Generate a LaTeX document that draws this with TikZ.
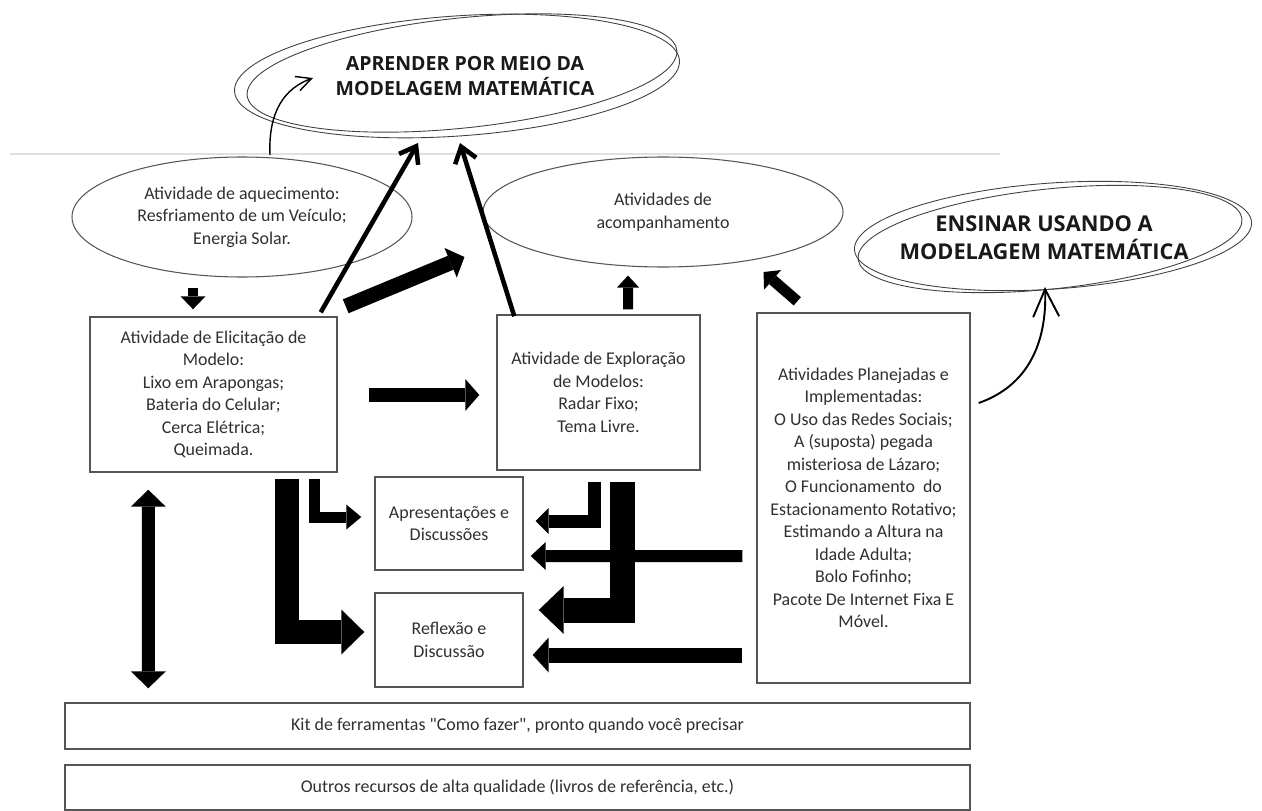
\documentclass[tikz,border=0pt]{standalone}
\usepackage{fontspec}
\setmainfont{Carlito}[Ligatures=TeXOff]
\newfontfamily\headfont{Open Sans}
\usetikzlibrary{arrows.meta,shapes.geometric,calc}

\definecolor{txtgray}{HTML}{303030}
\definecolor{linegray}{HTML}{555555}
\newcommand\boxfont{\fontsize{10.2}{12.8}\selectfont}

\tikzset{
    box/.style={rectangle, draw=linegray, line width=0.8pt, inner sep=0pt,
    	align=center, font=\boxfont, text=txtgray}
}
\tikzset{
    oval/.style={ellipse, draw=linegray, line width=0.6pt, inner sep=0pt,
    	align=center, font=\boxfont, text=txtgray}
}
\tikzset{
    title/.style={align=center, text=black!90, inner sep=0pt}
}
\tikzset{
    blk/.style args={#1/#2/#3}{line width=#1, line join=miter,
    	-{Triangle[length=#2, width=#3, line width=0pt]}},
    dblk/.style args={#1/#2/#3}{line width=#1, line join=miter,
    	{Triangle[length=#2, width=#3, line width=0pt]}-{Triangle[length=#2, width=#3, line width=0pt]}}
}
\tikzset{
    pointer/.style={line width=2.6pt, -{Straight Barb[length=3mm, width=4.4mm]}},
    sketch/.style={draw=black!75, line width=0.5pt},
    curl/.style={line width=0.8pt, -{Straight Barb[length=3mm, width=3mm]}}
}

\begin{document}
\begin{tikzpicture}[x=0.2mm, y=-0.2mm]
	\useasboundingbox (0,0) rectangle (1262,811);
	\fill[white] (0,0) rectangle (1262,811);
	\draw[black!12, line width=0.6pt] (10,154) -- (1000,154);

	% titles
	\node (learn) [title, font=\headfont\bfseries\fontsize{11.1}{14.2}\selectfont] at (465,76)
		{APRENDER POR MEIO DA\\MODELAGEM MATEMÁTICA};
	\node (teach) [title, font=\headfont\bfseries\fontsize{12.4}{16}\selectfont] at (1044,238)
		{ENSINAR USANDO A\\MODELAGEM MATEMÁTICA};
	\draw[sketch] (457,76) ellipse [x radius=223, y radius=60, rotate=4];
	\draw[sketch] (462,73) ellipse [x radius=216, y radius=55, rotate=6];
	\draw[sketch] (1053,236) ellipse [x radius=199, y radius=53, rotate=4];
	\draw[sketch] (1050,239) ellipse [x radius=193, y radius=50, rotate=6];

	% activities
	\node (warm) [oval, minimum width=68mm, minimum height=24mm] at (242,217)
		{Atividade de aquecimento:\\Resfriamento de um Veículo;\\Energia Solar.};
	\node (follow) [oval, minimum width=72mm, minimum height=22mm] at (663,212)
		{Atividades de\\acompanhamento};
	\node (elic) [box, minimum width=49.4mm, minimum height=31mm] at (213.5,394.5)
		{Atividade de Elicitação de\\Modelo:\\Lixo em Arapongas;\\Bateria do Celular;\\Cerca Elétrica;\\Queimada.};
	\node (explo) [box, minimum width=40.6mm, minimum height=31mm] at (598.5,392.5)
		{Atividade de Exploração\\de Modelos:\\Radar Fixo;\\Tema Livre.};
	\node (plan) [box, minimum width=42.6mm, minimum height=74mm] at (863.5,498)
		{Atividades Planejadas e\\Implementadas:\\O Uso das Redes Sociais;\\A (suposta) pegada\\misteriosa de Lázaro;\\O Funcionamento\ \ do\\Estacionamento Rotativo;\\Estimando a Altura na\\Idade Adulta;\\Bolo Fofinho;\\Pacote De Internet Fixa E\\Móvel.};
	\node (apres) [box, minimum width=29.6mm, minimum height=18.6mm] at (449,523.5)
		{Apresentações e\\Discussões};
	\node (refl) [box, minimum width=29.6mm, minimum height=18.8mm] at (449,640)
		{Reflexão e\\Discussão};
	\node (kit) [box, minimum width=181mm, minimum height=9.2mm] at (517.5,726)
		{Kit de ferramentas "Como fazer", pronto quando você precisar};
	\node (outros) [box, minimum width=181mm, minimum height=9mm] at (517.5,787.5)
		{Outros recursos de alta qualidade (livros de referência, etc.)};

	% arrows
	\draw[blk=2mm/2.6mm/5mm] ($(warm.south)+(-49,10)$) -- ($(elic.north)+(-20.5,-7)$);
	\draw[pointer] ($(elic.north east)+(-17,-4)$) -- ($(learn.center)+(-47,67)$);
	\draw[pointer] ($(explo.north west)+(18,2)$) -- ($(learn.center)+(-5,67)$);
	\draw[blk=3mm/3mm/6.4mm] ($(elic.north east)+(8,-10)$) -- ($(follow.west)+(-18,45)$);
	\draw[blk=2mm/2.4mm/4.4mm] ($(explo.north)+(29.5,-5)$) -- ($(follow.south)+(-35,8)$);
	\draw[blk=2.2mm/2.4mm/5.2mm] ($(plan.north west)+(41,-11)$) -- ($(follow.east)+(-80,60)$);
	\draw[blk=2.8mm/2.8mm/6.4mm] ($(elic.east)+(31,0.5)$) -- ($(explo.west)+(-17,2.5)$);
	\draw[dblk=2.6mm/3.4mm/7mm] ($(elic.south west)+(59,17)$) -- ($(kit.north west)+(84,-14)$);
	\draw[blk=4.8mm/4.6mm/9mm] ($(elic.south)+(73.5,6)$) |- ($(refl.west)+(-10,-8)$);
	\draw[blk=2.2mm/3mm/5mm] ($(elic.south)+(100.5,6)$) |- ($(apres.west)+(-13,-6.5)$);
	\draw[blk=2.6mm/2.6mm/5.2mm] ($(explo.south)+(-4.5,11)$) |- ($(apres.east)+(12,-2.5)$);
	\draw[blk=5mm/5mm/9.6mm] ($(explo.south)+(23.5,11)$) |- ($(refl.east)+(15,-30)$);
	\draw[blk=2.4mm/3mm/5.6mm] ($(plan.west)+(-14,58)$) -- ($(apres.east)+(7,32.5)$);
	\draw[blk=3mm/3.2mm/7mm] ($(plan.west)+(-14,157)$) -- ($(refl.east)+(9,15)$);

	% curved pointers
	\draw[curl] ($(learn.center)+(-195,79)$) .. controls ($(learn.center)+(-197,35)$)
		and ($(learn.center)+(-180,12)$) .. ($(learn.center)+(-152,2)$);
	\draw[curl, line width=1.1pt, -{Straight Barb[length=5.5mm, width=5.2mm]}]
		($(plan.east)+(8,-95)$) .. controls ($(teach.center)+(-14,147)$)
		and ($(teach.center)+(3,102)$) .. ($(teach.center)+(1,49)$);
\end{tikzpicture}
\end{document}
